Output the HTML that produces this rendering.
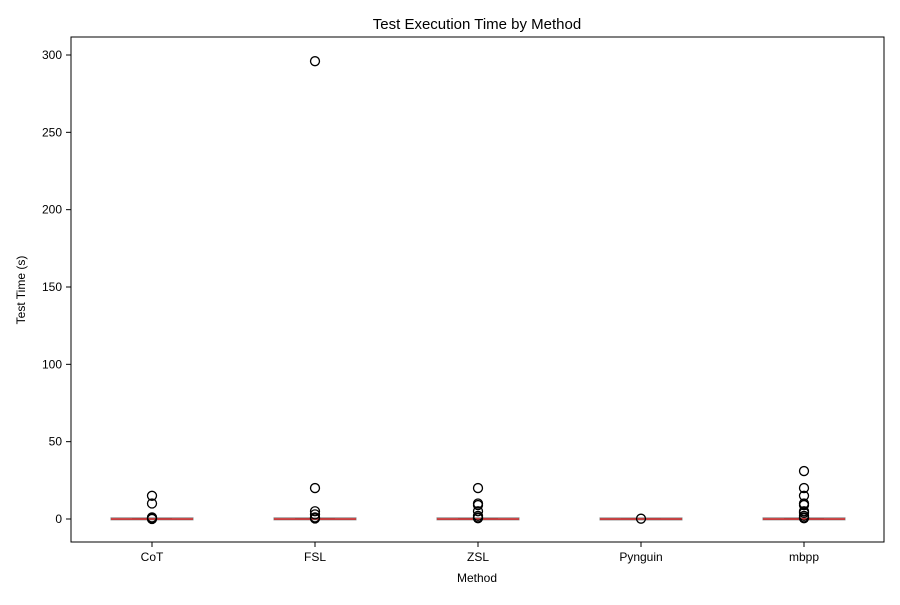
<!DOCTYPE html>
<html><head><meta charset="utf-8"><style>
body{margin:0;background:#fff}
svg text{font-family:"Liberation Sans","DejaVu Sans",sans-serif;fill:#000}
</style></head><body>
<svg id="chart" width="900" height="600">
<rect width="900" height="600" fill="#fff"/>
<text x="477" y="29" text-anchor="middle" font-size="15">Test Execution Time by Method</text>
<text x="477" y="582" text-anchor="middle" font-size="12">Method</text>
<text transform="translate(25,290) rotate(-90)" text-anchor="middle" font-size="12">Test Time (s)</text>
<g id="plot"></g>
<rect x="71" y="37" width="813" height="505" fill="none" stroke="#000" stroke-width="1"/>
</svg>
<script>
const categories=["CoT","FSL","ZSL","Pynguin","mbpp"];
const medians=[0,0,0,0,0];
const q1s=[0,0,0,0,0];
const q3s=[0.1,0.1,0.1,0.05,0.1];
const outliers=[[15,10,1,0.5,0],[296,20,5,3,1,0.3],[20,10,9,5,2,1,0.5],[0.2],[31,20,15,10,9,5,4,2,1,0.5]];
const yTicks=[0,50,100,150,200,250,300];
const ns="http://www.w3.org/2000/svg";
const g=document.getElementById('plot');
function y(v){return 519-v*(464/300);}
function x(i){return 152+i*163;}
function mk(t,a){const e=document.createElementNS(ns,t);for(const k in a)e.setAttribute(k,a[k]);g.appendChild(e);return e;}
yTicks.forEach(t=>{
 const l=mk('line',{x1:66,x2:71,y1:y(t),y2:y(t),stroke:'#000'});
 
 
 const tx=mk('text',{x:62,y:y(t)+4,'text-anchor':'end','font-size':12});
 tx.textContent=t;
 
 
});
categories.forEach((c,i)=>{
 const cx=x(i);
 const tk=mk('line',{x1:cx,x2:cx,y1:542,y2:547,stroke:'#000'});
 
 
 const tx=mk('text',{x:cx,y:561,'text-anchor':'middle','font-size':12});
 tx.textContent=c;
 
 
 const cap=mk('line',{x1:cx-20,x2:cx+20,y1:y(q3s[i]),y2:y(q3s[i]),stroke:'#555','stroke-width':2});
 
 
 const box=mk('rect',{x:cx-41,y:y(q3s[i])-1,width:82,height:Math.max(2,y(q1s[i])-y(q3s[i])+1),fill:'none',stroke:'#888','stroke-width':1});
 
 
 const md=mk('line',{x1:cx-41,x2:cx+41,y1:y(medians[i]),y2:y(medians[i]),stroke:'#d62728','stroke-width':1.5});
 
 
 outliers[i].forEach((v,j)=>{
  const o=mk('circle',{cx:cx,cy:y(v),r:4.5,fill:'none',stroke:'#000','stroke-width':1.3});
  
  
 });
});
</script>
</body></html>
